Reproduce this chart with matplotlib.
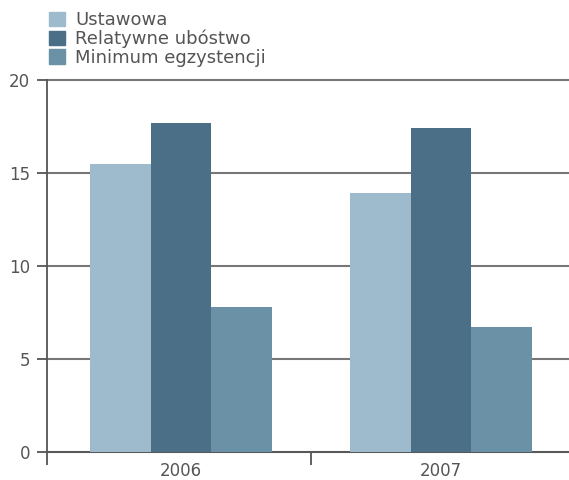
import numpy as np
import matplotlib.pyplot as plt
from matplotlib.patches import Patch

plt.rcParams['font.family'] = ['DejaVu Sans']

# data
years = ['2006', '2007']
series = ['Ustawowa', 'Relatywne ubóstwo', 'Minimum egzystencji']
ustawowa = [15.5, 13.9]
relatywne = [17.7, 17.4]
minimum = [7.8, 6.7]
colors = ['#9dbbcc', '#4a6f87', '#6b91a6']

fig = plt.figure(figsize=(5.69, 4.8), dpi=100)
ax = fig.add_axes([47/569, 28/480, 522/569, 372/480])

x = np.arange(len(years))
w = 0.233
for i, vals in enumerate([ustawowa, relatywne, minimum]):
    ax.bar(x + (i - 1) * w, vals, width=w, color=colors[i], zorder=3)

ax.set_xlim(-0.515, 1.492)
ax.set_ylim(0, 20)
ax.set_yticks([0, 5, 10, 15, 20])
ax.yaxis.grid(True, color='#777777', linewidth=1.5, zorder=0)
# keep the top gridline full width instead of half clipped
for line in ax.get_ygridlines():
    line.set_clip_on(False)

# labels sit under the groups, ticks sit between them
ax.set_xticks([-0.515, 0.5])
ax.set_xticklabels([])
ax.set_xticks(x, minor=True)
ax.set_xticklabels(years, minor=True)
ax.tick_params(axis='x', which='major', length=9, width=1.3, color='#555555')
ax.tick_params(axis='x', which='minor', length=0, pad=7.5, labelsize=12, labelcolor='#555555')
ax.tick_params(axis='y', length=7, width=1.3, color='#555555', pad=5, labelsize=12, labelcolor='#555555')

for s in ['top', 'right']:
    ax.spines[s].set_visible(False)
for s in ['left', 'bottom']:
    ax.spines[s].set_color('#555555')
    ax.spines[s].set_linewidth(1.3)

handles = [Patch(color=c) for c in colors]
fig.legend(handles, series, loc='upper left', bbox_to_anchor=(49/569, 1 - 11/480),
           frameon=False, handlelength=0.9, handleheight=0.85, handletextpad=0.55,
           labelspacing=0.03, fontsize=13, labelcolor='#555555', borderaxespad=0,
           borderpad=0)

plt.savefig('out.png', dpi=100)
